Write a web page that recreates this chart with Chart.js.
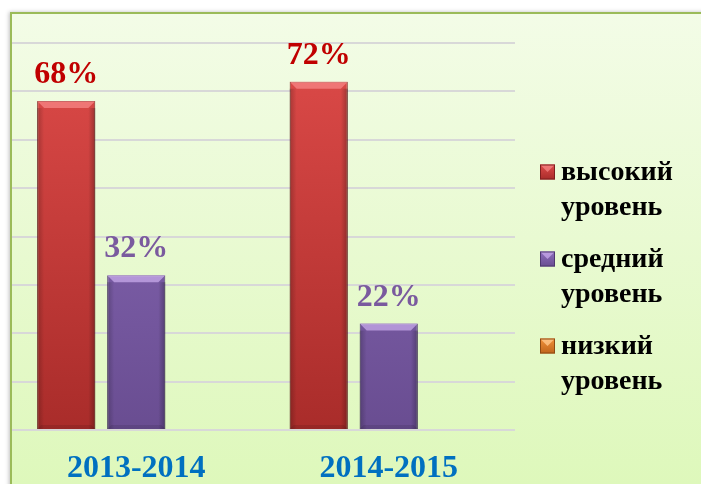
<!DOCTYPE html>
<html>
<head>
<meta charset="utf-8">
<script src="https://cdn.jsdelivr.net/npm/chart.js@4/dist/chart.umd.min.js"></script>
<style>
  html, body { margin: 0; padding: 0; background: #ffffff; }
  #wrap { width: 701px; height: 484px; position: relative; }
</style>
</head>
<body>
<div id="wrap"><canvas id="c" width="701" height="484"></canvas></div>
<script>
// ---- data ----
const categories = ['2013-2014', '2014-2015'];
const highLevel = [68, 72];
const midLevel = [32, 22];
const lowLevel = [0, 0];
const seriesNames = [['высокий', 'уровень'], ['средний', 'уровень'], ['низкий', 'уровень']];
const yTicks = { min: 0, max: 80, step: 10 };

// ---- styles ----
const SERIF = '"Liberation Serif", "Times New Roman", serif';
const barTop = ['#DE4B49', '#8E6EBD', '#F0913A'];
const barBottom = ['#A92C2A', '#694D91', '#C0651B'];
const barEdge = ['#7E1F1E', '#4E3870', '#8E4A12'];
const bevelLight = ['rgba(255,150,150,0.6)', 'rgba(205,175,240,0.7)', 'rgba(255,200,140,0.8)'];
const labelColors = ['#C00000', '#7A5A9E', '#E36C0A'];

function vGrad(ctx, chart, i) {
  const ca = chart.chartArea;
  if (!ca) return barTop[i];
  const g = ctx.createLinearGradient(0, ca.top, 0, ca.bottom);
  g.addColorStop(0, barTop[i]);
  g.addColorStop(1, barBottom[i]);
  return g;
}

const framePlugin = {
  id: 'frame',
  beforeDraw(chart) {
    const ctx = chart.ctx;
    ctx.save();
    ctx.fillStyle = '#ffffff';
    ctx.fillRect(0, 0, chart.width, chart.height);
    ctx.shadowColor = 'rgba(0,0,0,0.25)';
    ctx.shadowBlur = 4;
    ctx.shadowOffsetX = -1;
    ctx.fillStyle = '#F2FBE3';
    ctx.fillRect(10, 12, chart.width, chart.height);
    ctx.shadowColor = 'transparent';
    const g = ctx.createLinearGradient(0, 12, 0, chart.height);
    g.addColorStop(0, '#F3FCE7');
    g.addColorStop(1, '#DEF8BB');
    ctx.fillStyle = g;
    ctx.fillRect(10, 12, chart.width, chart.height);
    ctx.restore();
  },
  afterDraw(chart) {
    const ctx = chart.ctx;
    ctx.save();
    ctx.strokeStyle = '#9BBB59';
    ctx.lineWidth = 2;
    ctx.beginPath();
    ctx.moveTo(11, chart.height + 2);
    ctx.lineTo(11, 13);
    ctx.lineTo(chart.width + 2, 13);
    ctx.stroke();
    ctx.restore();
  }
};

const bevelPlugin = {
  id: 'bevel',
  afterDatasetsDraw(chart) {
    const ctx = chart.ctx;
    ctx.save();
    chart.data.datasets.forEach((ds, di) => {
      const meta = chart.getDatasetMeta(di);
      meta.data.forEach((bar, i) => {
        if (!ds.data[i]) return;
        const { x, y, base, width } = bar.getProps(['x', 'y', 'base', 'width'], true);
        const l = x - width / 2, r = x + width / 2, b = 7;
        ctx.fillStyle = bevelLight[di];
        ctx.beginPath();
        ctx.moveTo(l, y); ctx.lineTo(r, y); ctx.lineTo(r - b, y + b); ctx.lineTo(l + b, y + b);
        ctx.closePath(); ctx.fill();
        const sg = ctx.createLinearGradient(l, 0, r, 0);
        sg.addColorStop(0, 'rgba(0,0,0,0.22)');
        sg.addColorStop(0.12, 'rgba(0,0,0,0)');
        sg.addColorStop(0.88, 'rgba(0,0,0,0)');
        sg.addColorStop(1, 'rgba(0,0,0,0.28)');
        ctx.fillStyle = sg;
        ctx.fillRect(l, y + b, width, base - y - b);
        ctx.fillStyle = 'rgba(0,0,0,0.10)';
        ctx.beginPath();
        ctx.moveTo(l, base); ctx.lineTo(r, base); ctx.lineTo(r - 4, base - 4); ctx.lineTo(l + 4, base - 4);
        ctx.closePath(); ctx.fill();
      });
    });
    ctx.restore();
  }
};

const valueLabelPlugin = {
  id: 'valueLabels',
  afterDatasetsDraw(chart) {
    const ctx = chart.ctx;
    ctx.save();
    ctx.font = 'bold 32px ' + SERIF;
    ctx.textAlign = 'center';
    ctx.textBaseline = 'alphabetic';
    chart.data.datasets.forEach((ds, di) => {
      const meta = chart.getDatasetMeta(di);
      meta.data.forEach((bar, i) => {
        const v = ds.data[i];
        if (!v) return;
        ctx.fillStyle = labelColors[di];
        ctx.fillText(v + '%', bar.x, bar.y - 18);
      });
    });
    ctx.restore();
  }
};

const legendPlugin = {
  id: 'sideLegend',
  afterDraw(chart) {
    const ctx = chart.ctx;
    ctx.save();
    ctx.font = 'bold 28px ' + SERIF;
    ctx.textAlign = 'left';
    ctx.textBaseline = 'middle';
    const startY = 172, entryGap = 87, lineGap = 34.5;
    chart.data.datasets.forEach((ds, di) => {
      const cy = startY + di * entryGap;
      const mx = 540, ms = 15, my = cy - ms / 2;
      const g = ctx.createLinearGradient(0, my, 0, my + ms);
      g.addColorStop(0, barTop[di]);
      g.addColorStop(1, barBottom[di]);
      ctx.fillStyle = g;
      ctx.fillRect(mx, my, ms, ms);
      ctx.fillStyle = bevelLight[di];
      ctx.beginPath();
      ctx.moveTo(mx, my); ctx.lineTo(mx + ms, my); ctx.lineTo(mx + ms / 2, my + ms / 2);
      ctx.closePath(); ctx.fill();
      ctx.strokeStyle = barEdge[di];
      ctx.lineWidth = 1;
      ctx.strokeRect(mx + 0.5, my + 0.5, ms - 1, ms - 1);
      ctx.fillStyle = '#000000';
      ds.label.forEach((line, li) => {
        ctx.fillText(line, 561, cy + 1 + li * lineGap);
      });
    });
    ctx.restore();
  }
};

const datasets = [highLevel, midLevel, lowLevel].map((arr, i) => ({
  label: seriesNames[i],
  data: arr,
  backgroundColor: (c) => vGrad(c.chart.ctx, c.chart, i),
  borderColor: barEdge[i],
  borderWidth: 1,
  categoryPercentage: 0.832,
  barPercentage: 0.83
}));

new Chart(document.getElementById('c'), {
  type: 'bar',
  data: { labels: categories, datasets },
  plugins: [framePlugin, bevelPlugin, valueLabelPlugin, legendPlugin],
  options: {
    responsive: false,
    animation: false,
    devicePixelRatio: 1,
    layout: { padding: { left: 10, top: 43, right: 186, bottom: 0 } },
    plugins: { legend: { display: false }, tooltip: { enabled: false }, title: { display: false } },
    scales: {
      x: {
        grid: { display: false, drawTicks: false },
        border: { display: false },
        ticks: {
          color: '#0070C0',
          font: { family: SERIF, size: 32, weight: 'bold' },
          padding: 20,
          maxRotation: 0
        },
        afterFit(scale) { scale.height = 54; }
      },
      y: {
        min: yTicks.min,
        max: yTicks.max,
        ticks: { display: false, stepSize: yTicks.step },
        grid: { color: '#D8D8D8', lineWidth: 2, drawTicks: false },
        border: { display: false },
        afterFit(scale) { scale.width = 0; }
      }
    }
  }
});
</script>
</body>
</html>
